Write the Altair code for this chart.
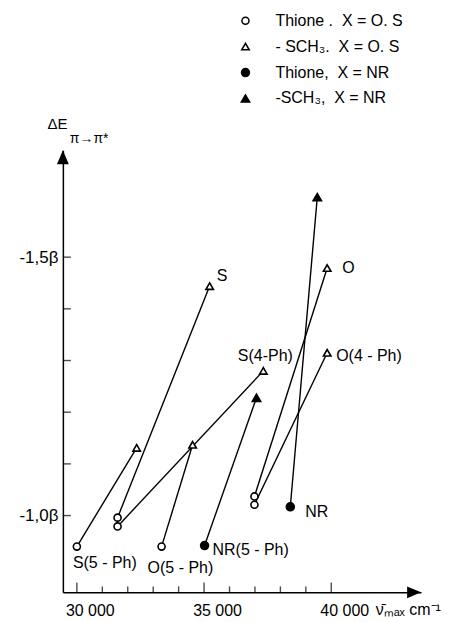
import altair as alt
import pandas as pd

FONT = "Liberation Sans"

# ---- data ----
compounds = ["S(5-Ph)", "S", "S(4-Ph)", "O(5-Ph)", "NR(5-Ph)", "O", "O(4-Ph)", "NR"]
x_group = ["O,S", "O,S", "O,S", "O,S", "NR", "O,S", "O,S", "NR"]
thione_nu = [30000, 31600, 31600, 33330, 35020, 36980, 36980, 38390]
thione_E = [-0.940, -0.996, -0.979, -0.940, -0.942, -1.037, -1.021, -1.017]
sch3_nu = [32350, 35220, 37330, 34550, 37060, 39840, 39840, 39450]
sch3_E = [-1.131, -1.444, -1.280, -1.137, -1.228, -1.479, -1.315, -1.616]

series_names = [
    "\u00a0\u00a0\u00a0\u00a0Thione\u00a0.\u00a0\u00a0X = O. S",
    "- SCH\u2083.\u00a0\u00a0X = O. S",
    "\u00a0\u00a0\u00a0\u00a0Thione,\u00a0\u00a0X = NR",
    "\u00a0\u00a0-SCH\u2083,\u00a0\u00a0X = NR",
]

point_labels = ["S(5 - Ph)", "S", "S(4-Ph)", "O(5 - Ph)", "NR(5 - Ph)", "O", "O(4 - Ph)", "NR"]
label_on = ["thione", "sch3", "sch3", "thione", "thione", "sch3", "sch3", "thione"]

x_ticks = list(range(30000, 40001, 1000))
x_major = [30000, 35000, 40000]
y_ticks = [-1.5, -1.4, -1.3, -1.2, -1.1, -1.0]
y_labeled = [-1.5, -1.0]
x_domain = [29450, 43530]
y_domain = [-1.7066, -0.8514]

# ---- styling (not data) ----
label_style = {
    "S": dict(dx=7, dy=-10, align="left"),
    "O": dict(dx=15, dy=0, align="left"),
    "S(4-Ph)": dict(dx=2, dy=-15, align="center"),
    "O(4 - Ph)": dict(dx=9, dy=3, align="left"),
    "NR": dict(dx=15, dy=5, align="left"),
    "NR(5 - Ph)": dict(dx=8, dy=4, align="left"),
    "S(5 - Ph)": dict(dx=-4, dy=16, align="left"),
    "O(5 - Ph)": dict(dx=-14, dy=21, align="left"),
}

# ---- tables ----
pairs = pd.DataFrame({
    "compound": compounds,
    "x1": thione_nu, "y1": thione_E,
    "x2": sch3_nu, "y2": sch3_E,
})

rows = []
for i, c in enumerate(compounds):
    is_nr = x_group[i] == "NR"
    rows.append({"compound": c, "nu": thione_nu[i], "E": thione_E[i],
                 "series": series_names[2] if is_nr else series_names[0]})
    rows.append({"compound": c, "nu": sch3_nu[i], "E": sch3_E[i],
                 "series": series_names[3] if is_nr else series_names[1]})
points = pd.DataFrame(rows)

xs = alt.Scale(domain=x_domain, nice=False, zero=False)
ys = alt.Scale(domain=y_domain, nice=False, zero=False, reverse=True)

x_axis = alt.Axis(
    values=x_major, labelExpr="replace(format(datum.value, ','), ',', ' ')",
    ticks=False, tickSize=0, grid=False, domainColor="black", domainWidth=1.5,
    labelFont=FONT, labelFontSize=16, labelColor="black", labelPadding=10,
    labelOffset=13, labelFlush=False,
    title="\u03bd\u0304\u2098\u2090\u2093 cm\u207b\u00b9", titleX=313, titleY=22,
    titleAlign="left", titleBaseline="alphabetic", titleFont=FONT,
    titleFontSize=16, titleFontWeight="normal", titleColor="black",
)
y_axis = alt.Axis(
    values=y_labeled,
    labelExpr="'-' + replace(format(abs(datum.value), '.1f'), '.', ',') + '\u03b2'",
    ticks=False, tickSize=0, grid=False, domainColor="black", domainWidth=1.5,
    labelFont=FONT, labelFontSize=17, labelColor="black", labelPadding=5,
    title="\u0394E", titleAngle=0, titleX=-16, titleY=-22, titleAlign="left",
    titleBaseline="alphabetic", titleFont=FONT, titleFontSize=15,
    titleFontWeight="normal", titleColor="black",
)

legend = alt.Legend(
    title=None, orient="none", legendX=175, legendY=-138, padding=0,
    labelFont=FONT, labelFontSize=16, labelColor="black", labelOffset=22,
    rowPadding=10, symbolStrokeColor="black", symbolStrokeWidth=1.5,
)

lines = alt.Chart(pairs).mark_rule(color="black", strokeWidth=1.4).encode(
    x=alt.X("x1:Q", scale=xs, axis=x_axis),
    y=alt.Y("y1:Q", scale=ys, axis=y_axis),
    x2="x2:Q", y2="y2:Q",
)

marks = alt.Chart(points).mark_point(filled=True, strokeWidth=1.6, opacity=1).encode(
    x=alt.X("nu:Q", scale=xs),
    y=alt.Y("E:Q", scale=ys),
    shape=alt.Shape("series:N", scale=alt.Scale(domain=series_names,
                    range=["circle", "triangle-up", "circle", "triangle-up"]), legend=legend),
    fill=alt.Fill("series:N", scale=alt.Scale(domain=series_names,
                  range=["white", "white", "black", "black"]), legend=legend),
    stroke=alt.Stroke("series:N", scale=alt.Scale(domain=series_names,
                      range=["black", "black", "black", "black"]), legend=legend),
    size=alt.Size("series:N", scale=alt.Scale(domain=series_names,
                  range=[50, 70, 55, 90]), legend=legend),
)

text_layers = []
for lab, on in zip(point_labels, label_on):
    i = point_labels.index(lab)
    xv = thione_nu[i] if on == "thione" else sch3_nu[i]
    yv = thione_E[i] if on == "thione" else sch3_E[i]
    st = label_style[lab]
    df = pd.DataFrame({"nu": [xv], "E": [yv], "label": [lab]})
    text_layers.append(
        alt.Chart(df).mark_text(font=FONT, fontSize=16, color="black", baseline="middle",
                                align=st["align"], dx=st["dx"], dy=st["dy"]).encode(
            x=alt.X("nu:Q", scale=xs), y=alt.Y("E:Q", scale=ys), text="label:N")
    )

xt = pd.DataFrame({"nu": x_ticks, "E": [y_domain[1]] * len(x_ticks),
                   "major": [t in x_major for t in x_ticks]})
x_minor_ticks = alt.Chart(xt[~xt["major"]]).mark_tick(
    orient="vertical", size=6, thickness=1.4, color="black", yOffset=-3).encode(
    x=alt.X("nu:Q", scale=xs), y=alt.Y("E:Q", scale=ys))
x_major_ticks = alt.Chart(xt[xt["major"]]).mark_tick(
    orient="vertical", size=10, thickness=1.4, color="black", yOffset=-5).encode(
    x=alt.X("nu:Q", scale=xs), y=alt.Y("E:Q", scale=ys))

yt = pd.DataFrame({"nu": [x_domain[0]] * len(y_ticks), "E": y_ticks})
y_tick_marks = alt.Chart(yt).mark_tick(
    orient="horizontal", size=8, thickness=1.4, color="black", xOffset=4).encode(
    x=alt.X("nu:Q", scale=xs), y=alt.Y("E:Q", scale=ys))

arrows = pd.DataFrame({"nu": [x_domain[1], x_domain[0]], "E": [y_domain[1], y_domain[0]],
                       "dir": ["x", "y"]})
x_arrow = alt.Chart(arrows[arrows["dir"] == "x"]).mark_point(
    shape="M-1,-0.85L1,0L-1,0.85Z", filled=True, color="black", size=196, opacity=1,
    xOffset=-7).encode(x=alt.X("nu:Q", scale=xs), y=alt.Y("E:Q", scale=ys))
y_arrow = alt.Chart(arrows[arrows["dir"] == "y"]).mark_point(
    shape="M0,-1L0.85,1L-0.85,1Z", filled=True, color="black", size=196, opacity=1,
    yOffset=7).encode(x=alt.X("nu:Q", scale=xs), y=alt.Y("E:Q", scale=ys))

sub = alt.Chart(pd.DataFrame({"t": ["\u03c0\u2192\u03c0*"]})).mark_text(
    font=FONT, fontSize=14, color="black", align="left", baseline="alphabetic").encode(
    x=alt.value(7), y=alt.value(-7), text="t:N")

chart = alt.layer(
    lines, x_minor_ticks, x_major_ticks, y_tick_marks, x_arrow, y_arrow,
    marks, *text_layers, sub,
).properties(
    width=359, height=443, background="white",
    autosize=alt.AutoSizeParams(type="none"),
    padding={"left": 55, "top": 142, "right": 30, "bottom": 28},
).configure_view(strokeWidth=0)

chart.save("out.html", embed_options={"renderer": "svg", "actions": False})
